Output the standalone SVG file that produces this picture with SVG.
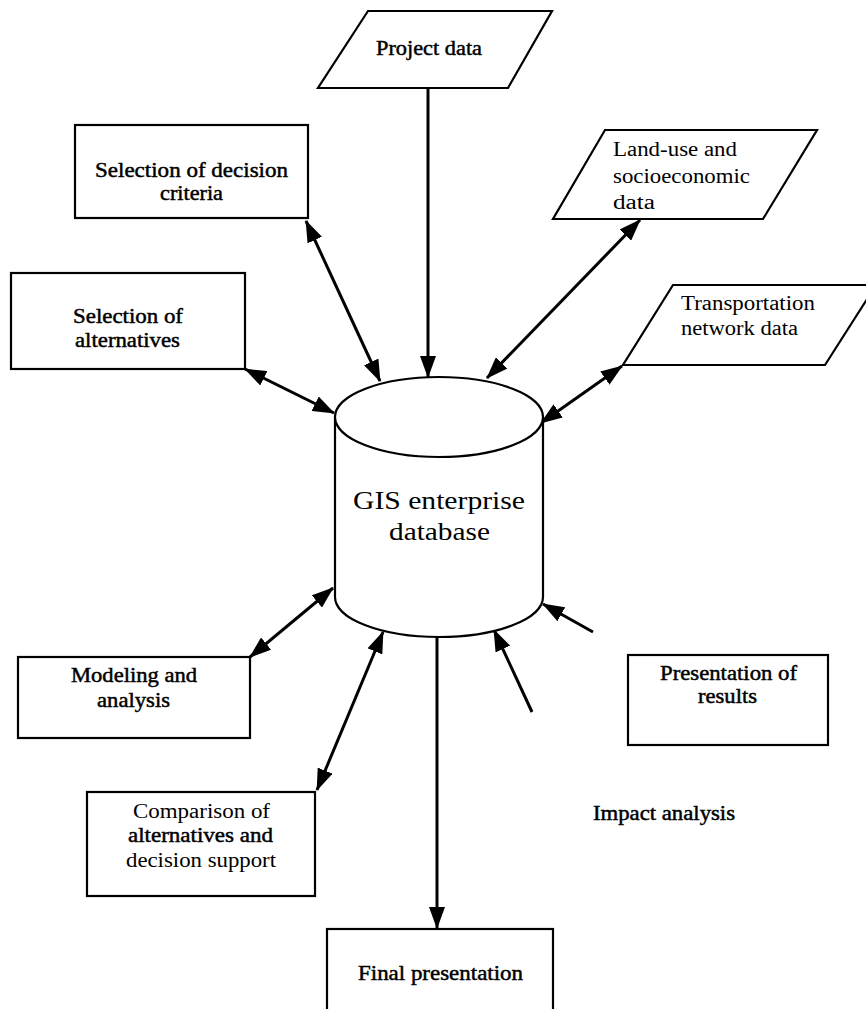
<svg xmlns="http://www.w3.org/2000/svg" width="866" height="1009" viewBox="0 0 866 1009">
<style>
.shape{fill:#fff;stroke:#000;stroke-width:2.2}
.t{font-family:"Liberation Serif","Times New Roman",serif;font-size:20px;fill:#000}
.dk{stroke:#000;stroke-width:0.45}
.big{font-size:25px}
.c{stroke:#000;stroke-width:3;fill:none}
</style>
<defs>
<marker id="ah" viewBox="0 0 22 16" refX="21" refY="8" markerWidth="22" markerHeight="16" markerUnits="userSpaceOnUse" orient="auto-start-reverse">
<path d="M0,0 L22,8 L0,16 z" fill="#000"/>
</marker>
</defs>
<rect width="866" height="1009" fill="#fff"/>

<g id="connectors">
<line class="c" x1="306" y1="221" x2="380" y2="381" marker-start="url(#ah)" marker-end="url(#ah)"/>
<line class="c" x1="428" y1="88" x2="428" y2="377" marker-end="url(#ah)"/>
<line class="c" x1="640" y1="220" x2="487" y2="378" marker-start="url(#ah)" marker-end="url(#ah)"/>
<line class="c" x1="245" y1="369" x2="334" y2="413" marker-start="url(#ah)" marker-end="url(#ah)"/>
<line class="c" x1="622" y1="366" x2="541" y2="423" marker-start="url(#ah)" marker-end="url(#ah)"/>
<line class="c" x1="250" y1="657" x2="333" y2="588" marker-start="url(#ah)" marker-end="url(#ah)"/>
<line class="c" x1="383" y1="632" x2="317" y2="790" marker-start="url(#ah)" marker-end="url(#ah)"/>
<line class="c" x1="437" y1="637" x2="437" y2="928" marker-end="url(#ah)"/>
<line class="c" x1="532" y1="712" x2="494" y2="630" marker-end="url(#ah)"/>
<line class="c" x1="593" y1="632" x2="543" y2="604" marker-end="url(#ah)"/>
</g>

<g id="project-data">
<polygon class="shape" points="368,11 552,11 508,88 318,88"/>
<text class="t dk" x="376" y="55" font-size="21" textLength="106" lengthAdjust="spacingAndGlyphs">Project data</text>
</g>

<g id="selection-criteria">
<rect class="shape" x="75" y="125" width="233" height="93"/>
<text class="t dk" x="95" y="177" textLength="193" lengthAdjust="spacingAndGlyphs">Selection of decision</text>
<text class="t dk" x="160" y="200" textLength="63" lengthAdjust="spacingAndGlyphs">criteria</text>
</g>

<g id="land-use">
<polygon class="shape" points="605,130 817,130 763,219 553,219"/>
<text class="t" x="613" y="156" textLength="124" lengthAdjust="spacingAndGlyphs">Land-use and</text>
<text class="t" x="613" y="183" textLength="137" lengthAdjust="spacingAndGlyphs">socioeconomic</text>
<text class="t" x="613" y="209" textLength="42" lengthAdjust="spacingAndGlyphs">data</text>
</g>

<g id="selection-alternatives">
<rect class="shape" x="11" y="273" width="234" height="96"/>
<text class="t dk" x="73" y="323" textLength="110" lengthAdjust="spacingAndGlyphs">Selection of</text>
<text class="t dk" x="75" y="347" textLength="105" lengthAdjust="spacingAndGlyphs">alternatives</text>
</g>

<g id="transportation">
<polygon class="shape" points="673,285 876,285 825,365 623,365"/>
<text class="t" x="681" y="310" textLength="134" lengthAdjust="spacingAndGlyphs">Transportation</text>
<text class="t" x="681" y="335" textLength="117" lengthAdjust="spacingAndGlyphs">network data</text>
</g>

<g id="gis-database">
<path class="shape" d="M335,417 L335,597 A104,40 0 0 0 543,597 L543,417"/>
<ellipse class="shape" cx="439" cy="417" rx="104" ry="40"/>
<text class="t big" x="353" y="509" textLength="172" lengthAdjust="spacingAndGlyphs">GIS enterprise</text>
<text class="t big" x="389" y="540" textLength="101" lengthAdjust="spacingAndGlyphs">database</text>
</g>

<g id="modeling">
<rect class="shape" x="18" y="657" width="232" height="81"/>
<text class="t dk" x="71" y="682" textLength="126" lengthAdjust="spacingAndGlyphs">Modeling and</text>
<text class="t dk" x="97" y="707" textLength="73" lengthAdjust="spacingAndGlyphs">analysis</text>
</g>

<g id="presentation-results">
<rect class="shape" x="628" y="655" width="200" height="90"/>
<text class="t dk" x="660" y="680" textLength="137" lengthAdjust="spacingAndGlyphs">Presentation of</text>
<text class="t dk" x="698" y="703" textLength="59" lengthAdjust="spacingAndGlyphs">results</text>
</g>

<g id="comparison">
<rect class="shape" x="87" y="792" width="228" height="104"/>
<text class="t" x="133" y="818" textLength="137" lengthAdjust="spacingAndGlyphs">Comparison of</text>
<text class="t dk" x="128" y="842" textLength="145" lengthAdjust="spacingAndGlyphs">alternatives and</text>
<text class="t" x="126" y="867" textLength="150" lengthAdjust="spacingAndGlyphs">decision support</text>
</g>

<g id="impact-analysis">
<text class="t dk" x="593" y="820" textLength="142" lengthAdjust="spacingAndGlyphs">Impact analysis</text>
</g>

<g id="final-presentation">
<rect class="shape" x="327" y="929" width="226" height="100"/>
<text class="t dk" x="358" y="980" textLength="165" lengthAdjust="spacingAndGlyphs">Final presentation</text>
</g>
</svg>
